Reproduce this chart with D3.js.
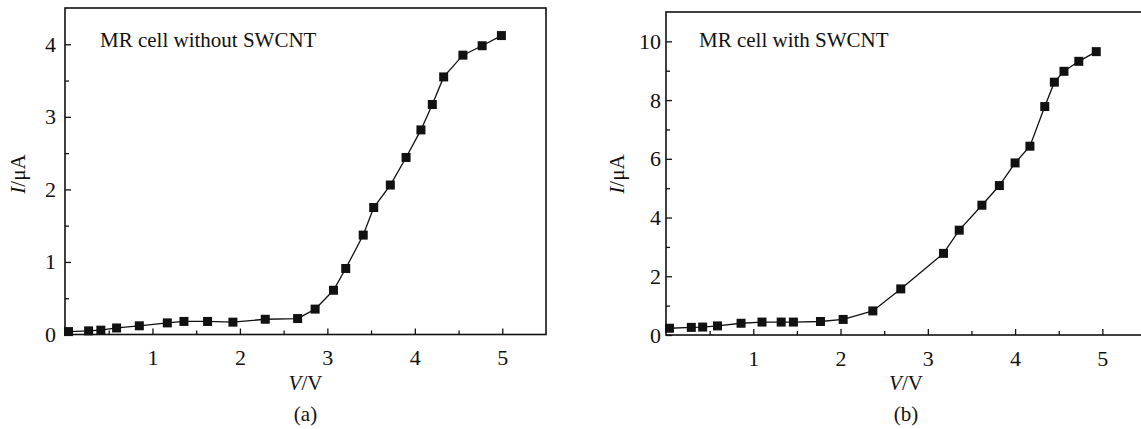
<!DOCTYPE html>
<html>
<head>
<meta charset="utf-8">
<script src="https://cdn.jsdelivr.net/npm/d3@7"></script>
<style>
  html, body { margin: 0; padding: 0; background: #fff; }
  svg { display: block; }
</style>
</head>
<body>
<svg id="chart" width="1141" height="429"></svg>
<script>
// I–V data for the MR cell, without (a) and with (b) SWCNT
const voltsA = [0.04, 0.27, 0.41, 0.59, 0.85, 1.17, 1.36, 1.63, 1.92, 2.29, 2.66, 2.86,
                3.07, 3.21, 3.41, 3.53, 3.72, 3.90, 4.07, 4.20, 4.33, 4.55, 4.77, 4.99];
const currentA = [0.04, 0.05, 0.06, 0.09, 0.12, 0.16, 0.18, 0.18, 0.17, 0.21, 0.22, 0.35,
                  0.61, 0.91, 1.37, 1.75, 2.06, 2.44, 2.82, 3.17, 3.55, 3.85, 3.98, 4.12];

const voltsB = [0.04, 0.29, 0.42, 0.59, 0.86, 1.10, 1.32, 1.46, 1.77, 2.03, 2.37, 2.69,
                3.18, 3.36, 3.62, 3.82, 4.00, 4.17, 4.34, 4.45, 4.56, 4.73, 4.93];
const currentB = [0.23, 0.26, 0.27, 0.31, 0.40, 0.44, 0.44, 0.44, 0.46, 0.53, 0.82, 1.57,
                  2.78, 3.57, 4.42, 5.09, 5.86, 6.43, 7.78, 8.61, 8.98, 9.32, 9.65];

const xTicks = [1, 2, 3, 4, 5];
const xMinorTicks = [0.5, 1.5, 2.5, 3.5, 4.5];
const yTicksA = [0, 1, 2, 3, 4];
const yMinorTicksA = [0.5, 1.5, 2.5, 3.5];
const yTicksB = [0, 2, 4, 6, 8, 10];
const yMinorTicksB = [1, 3, 5, 7, 9];

const FONT = "'Liberation Serif', 'Times New Roman', Times, serif";

const svg = d3.select("#chart");

function serif(sel, size) {
  const fs = size || "21px";
  sel.attr("font-family", FONT).style("font-family", FONT)
     .style("font-size", fs).attr("fill", "#111");
  return sel;
}

function drawPanel(opt) {
  const g = svg.append("g");
  const x = d3.scaleLinear().domain([0, 5.5]).range([opt.left, opt.right]);
  const y = d3.scaleLinear().domain(opt.yDomain).range([opt.bottom, opt.top]);

  // major and minor ticks point into the plot area
  const xAxis = d3.axisBottom(x).tickValues(xTicks).tickSize(-6).tickPadding(15).tickFormat(d3.format("d"));
  const xMinor = d3.axisBottom(x).tickValues(xMinorTicks).tickSize(-4).tickFormat("");
  const yAxis = d3.axisLeft(y).tickValues(opt.yTicks).tickSize(-6).tickPadding(opt.yPad).tickFormat(d3.format("d"));
  const yMinor = d3.axisLeft(y).tickValues(opt.yMinor).tickSize(-4).tickFormat("");

  function style(sel) {
    sel.attr("font-family", FONT).attr("font-size", "22px");
    sel.select(".domain").remove();
    sel.selectAll("line").attr("stroke", "#111").attr("stroke-width", 1.3);
    sel.selectAll("text").call(serif, "22px");
  }

  g.append("g").attr("transform", `translate(0,${opt.bottom})`).call(xAxis).call(style);
  g.append("g").attr("transform", `translate(0,${opt.bottom})`).call(xMinor).call(style);
  g.append("g").attr("transform", `translate(${opt.left},0)`).call(yAxis).call(style);
  g.append("g").attr("transform", `translate(${opt.left},0)`).call(yMinor).call(style);

  // frame
  g.append("rect")
    .attr("x", opt.left).attr("y", opt.top)
    .attr("width", opt.right - opt.left).attr("height", opt.bottom - opt.top)
    .attr("fill", "none").attr("stroke", "#111").attr("stroke-width", 1.6);

  // data curve with square markers
  const pts = opt.volts.map((v, i) => [v, opt.current[i]]);
  g.append("path")
    .datum(pts)
    .attr("fill", "none").attr("stroke", "#111").attr("stroke-width", 1.3)
    .attr("d", d3.line().x(d => x(d[0])).y(d => y(d[1])));

  const s = 9;
  g.selectAll("rect.pt").data(pts).enter().append("rect")
    .attr("class", "pt")
    .attr("x", d => x(d[0]) - s / 2).attr("y", d => y(d[1]) - s / 2)
    .attr("width", s).attr("height", s).attr("fill", "#111");

  // annotation
  g.append("text").attr("x", opt.noteX).attr("y", 47).call(serif).text(opt.note);

  // axis titles
  const cx = opt.left + (opt.right - opt.left) / 2;
  const xl = g.append("text").attr("x", cx).attr("y", 390)
    .attr("text-anchor", "middle").call(serif);
  xl.append("tspan").attr("font-style", "italic").text("V");
  xl.append("tspan").text("/V");

  const yl = g.append("text")
    .attr("transform", `translate(${opt.yLabelX},174) rotate(-90)`)
    .attr("text-anchor", "middle").call(serif);
  yl.append("tspan").attr("font-style", "italic").text("I");
  yl.append("tspan").text("/μA");

  g.append("text").attr("x", cx).attr("y", 421)
    .attr("text-anchor", "middle").call(serif).text(opt.tag);
}

drawPanel({
  left: 65, right: 546, top: 8, bottom: 334.5,
  yDomain: [0, 4.5], yTicks: yTicksA, yMinor: yMinorTicksA, yPad: 9,
  volts: voltsA, current: currentA,
  note: "MR cell without SWCNT", noteX: 100, yLabelX: 25, tag: "(a)"
});

drawPanel({
  left: 666, right: 1146, top: 12, bottom: 335,
  yDomain: [0, 11], yTicks: yTicksB, yMinor: yMinorTicksB, yPad: 5,
  volts: voltsB, current: currentB,
  note: "MR cell with SWCNT", noteX: 699, yLabelX: 624, tag: "(b)"
});
</script>
</body>
</html>
